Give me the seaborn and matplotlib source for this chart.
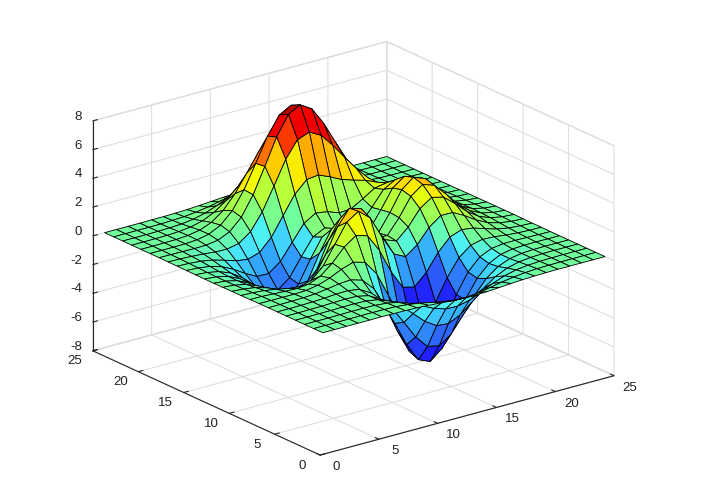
import numpy as np
import matplotlib
matplotlib.use("Agg")
import matplotlib.pyplot as plt
from matplotlib.colors import LinearSegmentedColormap
from mpl_toolkits.mplot3d import proj3d
import seaborn as sns

x_ticks = [0, 5, 10, 15, 20, 25]
y_ticks = [0, 5, 10, 15, 20, 25]
z_ticks = [-8, -6, -4, -2, 0, 2, 4, 6, 8]
x_grid = list(range(1, 26))
y_grid = list(range(1, 26))

# heights, one row per y position
heights = [
    [0, 0, 0, 0, 0, .01, 0, -.01, -.03, -.08, -.14, -.2, -.25, -.25, -.22, -.17, -.11, -.06, -.03, -.01, 0, 0, 0, 0, 0],
    [0, 0, 0, 0, .01, .01, 0, -.02, -.10, -.22, -.39, -.56, -.68, -.69, -.61, -.46, -.30, -.17, -.08, -.03, -.01, 0, 0, 0, 0],
    [0, 0, 0, .01, .02, .02, 0, -.07, -.23, -.53, -.91, -1.31, -1.57, -1.6, -1.41, -1.06, -.69, -.38, -.18, -.08, -.03, -.01, 0, 0, 0],
    [0, 0, .01, .01, .03, .04, .01, -.12, -.44, -.99, -1.74, -2.5, -3.02, -3.1, -2.72, -2.05, -1.32, -.73, -.35, -.14, -.05, -.01, 0, 0, 0],
    [0, 0, .01, .02, .05, .07, .05, -.13, -.59, -1.45, -2.64, -3.88, -4.76, -4.93, -4.35, -3.27, -2.1, -1.15, -.53, -.2, -.06, -.01, 0, 0, 0],
    [0, 0, .01, .03, .07, .13, .15, .02, -.46, -1.47, -3, -4.69, -5.97, -6.32, -5.63, -4.24, -2.68, -1.42, -.61, -.2, -.04, 0, .01, 0, 0],
    [0, 0, .01, .03, .08, .19, .33, .39, .15, -.68, -2.18, -4.07, -5.68, -6.32, -5.76, -4.31, -2.63, -1.27, -.44, -.07, .04, .05, .03, .01, 0],
    [0, -.01, -.01, -.01, .03, .17, .45, .83, 1.11, .88, -.14, -1.85, -3.61, -4.61, -4.4, -3.23, -1.74, -.56, .08, .27, .23, .13, .06, .02, .01],
    [-.01, -.02, -.06, -.1, -.13, -.04, .3, .98, 1.86, 2.45, 2.22, 1, -.72, -2.02, -2.22, -1.43, -.27, .58, .88, .77, .5, .26, .11, .04, .01],
    [-.02, -.05, -.12, -.25, -.42, -.51, -.28, .49, 1.78, 3.09, 3.63, 2.94, 1.4, 0, -.41, .2, 1.18, 1.79, 1.78, 1.35, .82, .41, .18, .06, .02],
    [-.02, -.08, -.2, -.44, -.8, -1.16, -1.21, -.6, .8, 2.49, 3.55, 3.3, 2, .7, .39, 1.14, 2.2, 2.76, 2.56, 1.88, 1.12, .56, .24, .09, .03],
    [-.03, -.1, -.27, -.6, -1.14, -1.78, -2.16, -1.84, -.56, 1.23, 2.56, 2.63, 1.58, .53, .48, 1.5, 2.76, 3.37, 3.09, 2.25, 1.34, .67, .28, .1, .03],
    [-.04, -.11, -.3, -.69, -1.33, -2.14, -2.77, -2.71, -1.65, .06, 1.48, 1.75, .98, .19, .37, 1.57, 2.94, 3.58, 3.27, 2.37, 1.41, .7, .3, .11, .03],
    [-.03, -.11, -.29, -.67, -1.32, -2.16, -2.87, -2.98, -2.15, -.65, .68, 1.06, .52, -.03, .28, 1.47, 2.76, 3.36, 3.06, 2.22, 1.32, .66, .28, .1, .03],
    [-.03, -.09, -.25, -.57, -1.12, -1.85, -2.49, -2.64, -2, -.76, .39, .8, .46, .09, .38, 1.34, 2.38, 2.83, 2.56, 1.84, 1.09, .54, .23, .08, .02],
    [-.02, -.07, -.18, -.42, -.82, -1.33, -1.76, -1.78, -1.16, -.05, 1.04, 1.55, 1.42, 1.12, 1.17, 1.65, 2.17, 2.32, 1.99, 1.4, .82, .41, .17, .06, .02],
    [-.01, -.04, -.11, -.25, -.48, -.74, -.86, -.6, .23, 1.51, 2.79, 3.59, 3.69, 3.34, 2.93, 2.66, 2.43, 2.08, 1.58, 1.04, .58, .28, .11, .04, .01],
    [-.01, -.02, -.06, -.12, -.2, -.22, -.05, .55, 1.7, 3.29, 4.92, 6.07, 6.39, 5.94, 5.02, 3.97, 2.97, 2.09, 1.35, .79, .41, .19, .07, .03, .01],
    [0, -.01, -.02, -.03, -.01, .11, .48, 1.27, 2.61, 4.37, 6.19, 7.54, 7.99, 7.48, 6.25, 4.72, 3.25, 2.05, 1.18, .62, .29, .12, .05, .02, 0],
    [0, 0, 0, .01, .07, .24, .65, 1.43, 2.67, 4.29, 5.96, 7.21, 7.67, 7.19, 5.98, 4.44, 2.96, 1.77, .96, .47, .21, .08, .03, .01, 0],
    [0, 0, .01, .02, .08, .23, .55, 1.16, 2.1, 3.31, 4.56, 5.51, 5.86, 5.5, 4.57, 3.37, 2.21, 1.29, .68, .32, .13, .05, .02, .01, 0],
    [0, 0, .01, .02, .06, .16, .36, .74, 1.32, 2.07, 2.84, 3.43, 3.65, 3.43, 2.84, 2.09, 1.36, .79, .41, .19, .08, .03, .01, 0, 0],
    [0, 0, 0, .01, .03, .08, .19, .39, .69, 1.07, 1.47, 1.77, 1.89, 1.77, 1.47, 1.08, .7, .4, .21, .09, .04, .01, 0, 0, 0],
    [0, 0, 0, 0, .01, .04, .08, .17, .3, .47, .64, .77, .82, .77, .64, .47, .3, .18, .09, .04, .02, 0, 0, 0, 0],
    [0, 0, 0, 0, .01, .01, .03, .06, .11, .17, .23, .28, .3, .28, .23, .17, .11, .06, .03, .01, 0, 0, 0, 0, 0],
]

# colour seen at each height in the picture
ramp_levels = [-6.32, -4.6, -3.1, -1.7, -0.7, 0, 1.42, 2.5, 3, 3.7, 4.6, 5.8, 6.39, 7.99]
ramp_colors = ["#1e1eff", "#2020ff", "#2d69fa", "#32aafa", "#4bf0fa", "#6eff9f", "#aaff46",
               "#f0ff00", "#ffdc00", "#ffaa00", "#ff5a00", "#f40000", "#f00000", "#a00000"]

sns.set_style("white")
plt.rcParams["font.family"] = ["Liberation Sans", "DejaVu Sans"]
plt.rcParams["axes.unicode_minus"] = False

X, Y = np.meshgrid(x_grid, y_grid)
Z = np.array(heights)

# each facet takes the colour of its first corner
norm = plt.Normalize(Z.min(), Z.max())
stops = list(zip(norm(ramp_levels), ramp_colors))
surf_map = LinearSegmentedColormap.from_list("surf", stops, N=64)
face_colors = surf_map(norm(Z))

fig = plt.figure(figsize=(7.17, 5), dpi=100)
# 3d axes are forced square, so make it as wide as the figure to avoid clipping
ax = fig.add_axes([-0.0206, -0.233, 1, 1.434], projection="3d", proj_type="ortho")
ax.view_init(elev=20.6, azim=-127.5)
ax.set_box_aspect((371, 374, 246), zoom=0.786)

ax.plot_surface(X, Y, Z, facecolors=face_colors, rstride=1, cstride=1,
                shade=False, edgecolor="black", linewidth=0.6, antialiased=True)

ax.set_xlim(0, 25, view_margin=0)
ax.set_ylim(0, 25, view_margin=0)
ax.set_zlim(-8, 8, view_margin=0)
ax.set_xticks(x_ticks)
ax.set_yticks(y_ticks)
ax.set_zticks(z_ticks)
ax.set_xticklabels([])
ax.set_yticklabels([])
ax.set_zticklabels([])

for axis in (ax.xaxis, ax.yaxis, ax.zaxis):
    axis.set_pane_color((1, 1, 1, 1))
    axis.pane.set_edgecolor("#dddddd")
    axis._axinfo["grid"].update(color="#dfdfdf", linewidth=0.8)
    axis._axinfo["tick"].update(inward_factor=0, outward_factor=0.2)
    axis._axinfo["axisline"]["color"] = "black"
    axis.line.set_linewidth(0.8)


def tick_label(text, x, y, z, dx, dy, ha="center"):
    # 3d tick labels can't be moved freely, so place them from the axis position (dx, dy in px)
    px, py, _ = proj3d.proj_transform(x, y, z, ax.get_proj())
    ax.annotate(text, xy=(px, py), xytext=(dx * 0.72, dy * 0.72), textcoords="offset points",
                ha=ha, va="center", fontsize=9.5, color="#222222", annotation_clip=False)


for t in x_ticks:
    tick_label(str(t), t, 0, -8, 16, -12)
for t in y_ticks:
    tick_label(str(t), 0, t, -8, -18, -10.5)
for t in z_ticks:
    tick_label(str(t), 0, 25, t, -11, 4, ha="right")

plt.savefig("out.png", dpi=100)
plt.close()
